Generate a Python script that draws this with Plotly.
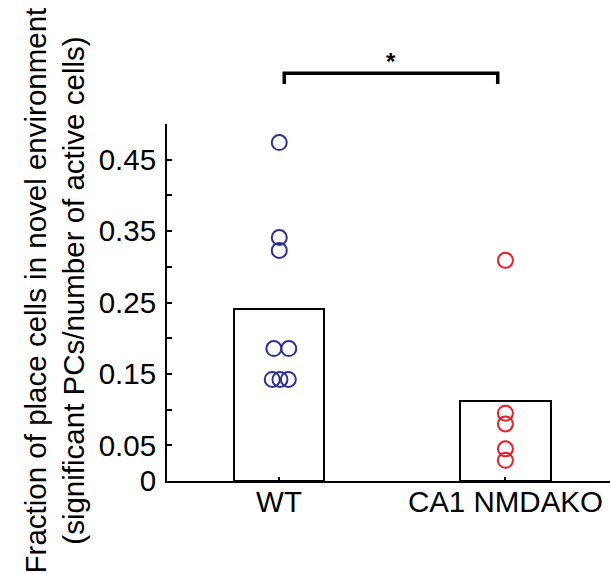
import plotly.graph_objects as go

# Group labels and bar heights (mean fraction of place cells)
categories = ["WT", "CA1 NMDAKO"]
cat_pos = [1, 2]
bar_means = [0.2415, 0.112]

# Individual animals (x jittered around the group position)
wt_x = [1.001, 1.001, 1.001, 0.977, 1.043, 0.970, 1.004, 1.041]
wt_y = [0.474, 0.341, 0.323, 0.1855, 0.1855, 0.1423, 0.1423, 0.1423]
ko_x = [2.0, 2.0, 2.0, 2.0, 2.0]
ko_y = [0.309, 0.095, 0.080, 0.045, 0.029]

# Y ticks: every 0.05, labels on alternate ones
y_tickvals = [0, 0.05, 0.10, 0.15, 0.20, 0.25, 0.30, 0.35, 0.40, 0.45, 0.50]
y_ticktext = ["0", "0.05", "", "0.15", "", "0.25", "", "0.35", "", "0.45", ""]

y_title = "Fraction of place cells in novel environment<br>(significant PCs/number of active cells)"

y_max = 0.5
x_range = [0.505, 2.462]

# Significance bracket (data units)
bracket_x = [1.023, 1.966]
bracket_top = 0.571
bracket_foot = 0.556
star_y = 0.588

FONT = "Liberation Sans, Arial, sans-serif"
FS = 29.5

fig = go.Figure()
fig.add_trace(go.Bar(
    x=cat_pos, y=bar_means, width=0.4,
    marker=dict(color="white", line=dict(color="black", width=2)),
    showlegend=False, hoverinfo="skip",
))
fig.add_trace(go.Scatter(
    x=wt_x, y=wt_y, mode="markers",
    marker=dict(symbol="circle-open", size=15, color="#2e3192",
                line=dict(width=2, color="#2e3192")),
    showlegend=False,
))
fig.add_trace(go.Scatter(
    x=ko_x, y=ko_y, mode="markers",
    marker=dict(symbol="circle-open", size=15, color="#ee1c25",
                line=dict(width=2, color="#ee1c25")),
    showlegend=False,
))

# bracket above the plot area
def to_paper(v):
    return v / y_max

fig.add_shape(type="path", xref="x", yref="paper",
              path=(f"M {bracket_x[0]} {to_paper(bracket_foot)} "
                    f"L {bracket_x[0]} {to_paper(bracket_top)} "
                    f"L {bracket_x[1]} {to_paper(bracket_top)} "
                    f"L {bracket_x[1]} {to_paper(bracket_foot)}"),
              line=dict(color="black", width=3.5))
fig.add_annotation(x=(bracket_x[0] + bracket_x[1]) / 2, y=to_paper(star_y),
                   xref="x", yref="paper", text="<b>*</b>", showarrow=False,
                   font=dict(family=FONT, size=24, color="black"),
                   yanchor="middle")

# two-line y-axis title, placed left of the tick labels
fig.add_annotation(x=-0.255, y=0.534, xref="paper", yref="paper",
                   text=y_title, textangle=-90, showarrow=False,
                   xanchor="center", yanchor="middle", align="center",
                   font=dict(family=FONT, size=FS, color="black"))

fig.update_layout(
    width=610, height=574,
    margin=dict(l=167, r=0, t=124, b=93, pad=0),
    plot_bgcolor="white", paper_bgcolor="white",
    bargap=0,
    font=dict(family=FONT, size=FS, color="black"),
)
fig.update_xaxes(
    range=x_range, showgrid=False, zeroline=False,
    showline=True, linecolor="black", linewidth=2,
    tickvals=cat_pos, ticktext=categories,
    ticks="inside", ticklen=4, tickwidth=1.5, tickcolor="black",
    tickfont=dict(family=FONT, size=FS, color="black"),
    ticklabelstandoff=-6,
)
fig.update_yaxes(
    range=[0, y_max], showgrid=False, zeroline=False,
    showline=True, linecolor="black", linewidth=2,
    tickvals=y_tickvals, ticktext=y_ticktext,
    ticks="inside", ticklen=5, tickwidth=1.5, tickcolor="black",
    tickfont=dict(family=FONT, size=FS, color="black"),
    ticklabelstandoff=3,
)

fig.write_html("out.html")
